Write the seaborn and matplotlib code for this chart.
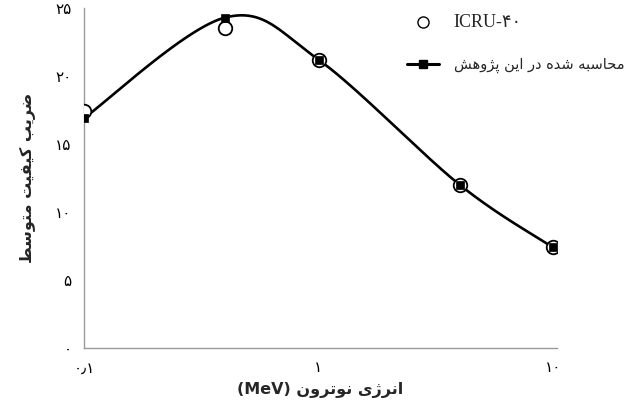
import numpy as np
import pandas as pd
import matplotlib
matplotlib.use("Agg")
import matplotlib.pyplot as plt
from matplotlib.lines import Line2D
import seaborn as sns

# ---------------- data ----------------
energy_mev = [0.1, 0.4, 1.0, 4.0, 10.0]
icru40_q = [17.4, 23.5, 21.2, 12.0, 7.4]
computed_q = [16.9, 24.3, 21.2, 12.0, 7.4]
y_ticks = [0, 5, 10, 15, 20, 25]
y_tick_labels = ["۰", "۵", "۱۰", "۱۵", "۲۰", "۲۵"]
x_ticks = [0.1, 1, 10]
x_tick_labels = ["۰٫۱", "۱", "۱۰"]
x_label_fa = "انرژی نوترون"
x_label_unit = "(MeV)"
y_label_fa = "ضریب کیفیت متوسط"
legend_icru = "ICRU-۴۰"
legend_computed = "محاسبه شده در این پژوهش"

# ------------- Persian shaping (presentation forms) -------------
FORMS = {
    'ا': ('\uFE8D', '\uFE8E'),
    'ب': ('\uFE8F', '\uFE90', '\uFE91', '\uFE92'),
    'پ': ('\uFB56', '\uFB57', '\uFB58', '\uFB59'),
    'ت': ('\uFE95', '\uFE96', '\uFE97', '\uFE98'),
    'ح': ('\uFEA1', '\uFEA2', '\uFEA3', '\uFEA4'),
    'د': ('\uFEA9', '\uFEAA'),
    'ر': ('\uFEAD', '\uFEAE'),
    'ژ': ('\uFB8A', '\uFB8B'),
    'س': ('\uFEB1', '\uFEB2', '\uFEB3', '\uFEB4'),
    'ش': ('\uFEB5', '\uFEB6', '\uFEB7', '\uFEB8'),
    'ض': ('\uFEBD', '\uFEBE', '\uFEBF', '\uFEC0'),
    'ط': ('\uFEC1', '\uFEC2', '\uFEC3', '\uFEC4'),
    'ف': ('\uFED1', '\uFED2', '\uFED3', '\uFED4'),
    'ک': ('\uFB8E', '\uFB8F', '\uFB90', '\uFB91'),
    'م': ('\uFEE1', '\uFEE2', '\uFEE3', '\uFEE4'),
    'ن': ('\uFEE5', '\uFEE6', '\uFEE7', '\uFEE8'),
    'و': ('\uFEED', '\uFEEE'),
    'ه': ('\uFEE9', '\uFEEA', '\uFEEB', '\uFEEC'),
    'ی': ('\uFBFC', '\uFBFD', '\uFBFE', '\uFBFF'),
}


def shape(text):
    out = []
    n = len(text)
    for i, ch in enumerate(text):
        f = FORMS.get(ch)
        if f is None:
            out.append(ch)
            continue
        prev = text[i - 1] if i > 0 else None
        nxt = text[i + 1] if i < n - 1 else None
        jp = prev in FORMS and len(FORMS[prev]) == 4
        jn = len(f) == 4 and nxt in FORMS
        if jp and jn:
            out.append(f[3])
        elif jp:
            out.append(f[1])
        elif jn:
            out.append(f[2])
        else:
            out.append(f[0])
    return ''.join(out)


def rtl(text):
    return shape(text)[::-1]


def smooth_curve(px, py, per_seg=80):
    """Catmull-Rom style Bezier smoothing (like a spreadsheet 'smoothed line')."""
    P = np.column_stack([px, py]).astype(float)
    n = len(P)
    out = []
    for i in range(n - 1):
        p0 = P[i - 1] if i > 0 else P[i]
        p1, p2 = P[i], P[i + 1]
        p3 = P[i + 2] if i + 2 < n else P[i + 1]
        b1 = p1 + (p2 - p0) / 6
        b2 = p2 - (p3 - p1) / 6
        t = np.linspace(0, 1, per_seg)[:, None]
        seg = ((1 - t) ** 3) * p1 + 3 * ((1 - t) ** 2) * t * b1 \
            + 3 * (1 - t) * t ** 2 * b2 + t ** 3 * p2
        out.append(seg if i == 0 else seg[1:])
    c = np.vstack(out)
    return c[:, 0], c[:, 1]


# ---------------- figure ----------------
sns.set_theme(style="white")
plt.rcParams['font.family'] = ['DejaVu Sans']

fig = plt.figure(figsize=(6.41, 4.05), dpi=100)
ax = fig.add_axes([84 / 641, 1 - 348 / 405, (557 - 84) / 641, (348 - 8) / 405])

# smoothed line through the computed values (in log-energy space)
cx, cy = smooth_curve(np.log10(energy_mev), computed_q)
curve = pd.DataFrame({"E": 10 ** cx, "Q": cy})
sns.lineplot(data=curve, x="E", y="Q", ax=ax, color="black", lw=1.9, sort=False)

df = pd.DataFrame({"E": energy_mev, "icru": icru40_q, "calc": computed_q})
sns.scatterplot(data=df, x="E", y="icru", ax=ax, marker="o", s=95,
                facecolor="white", edgecolor="black", linewidth=1.3, zorder=3)
sns.scatterplot(data=df, x="E", y="calc", ax=ax, marker="s", s=38,
                color="black", edgecolor="black", linewidth=0.5, zorder=4)

ax.set_xscale("log")
ax.set_xlim(0.1, 10.4)
ax.set_ylim(0, 25)

ax.set_xticks(x_ticks)
ax.set_xticklabels(x_tick_labels, fontsize=11)
ax.set_yticks(y_ticks)
ax.set_yticklabels(y_tick_labels, fontsize=11)
ax.xaxis.set_minor_locator(matplotlib.ticker.LogLocator(base=10, subs=np.arange(2, 10)))
ax.xaxis.set_minor_formatter(matplotlib.ticker.NullFormatter())

spine_col = "#9a9a9a"
for s in ["top", "right"]:
    ax.spines[s].set_visible(False)
for s in ["left", "bottom"]:
    ax.spines[s].set_color(spine_col)
    ax.spines[s].set_linewidth(1.0)
ax.tick_params(axis="both", which="both", direction="in", color=spine_col,
               width=0.8, labelcolor="black")
ax.tick_params(axis="x", which="major", length=5, pad=9)
ax.tick_params(axis="x", which="minor", length=4)
ax.tick_params(axis="y", which="major", length=5, pad=9)

ax.set_xlabel(x_label_unit + " " + rtl(x_label_fa), fontsize=11.5, fontweight="bold",
              labelpad=5)
ax.set_ylabel(rtl(y_label_fa), fontsize=11.5, fontweight="bold", labelpad=14)

handles = [
    Line2D([], [], ls="none", marker="o", markersize=8, markerfacecolor="white",
           markeredgecolor="black", markeredgewidth=1.0),
    Line2D([], [], color="black", lw=2.2, marker="s", markersize=6),
]
leg = ax.legend(handles, [legend_icru, rtl(legend_computed)], frameon=False,
                loc="upper left", bbox_to_anchor=(0.655, 1.02), handlelength=2.2,
                labelspacing=1.75, handletextpad=1.0, fontsize=10.5)
texts = leg.get_texts()
texts[0].set_family(["Liberation Serif", "DejaVu Sans"])
texts[0].set_fontsize(13)

fig.savefig("out.png", dpi=100)
